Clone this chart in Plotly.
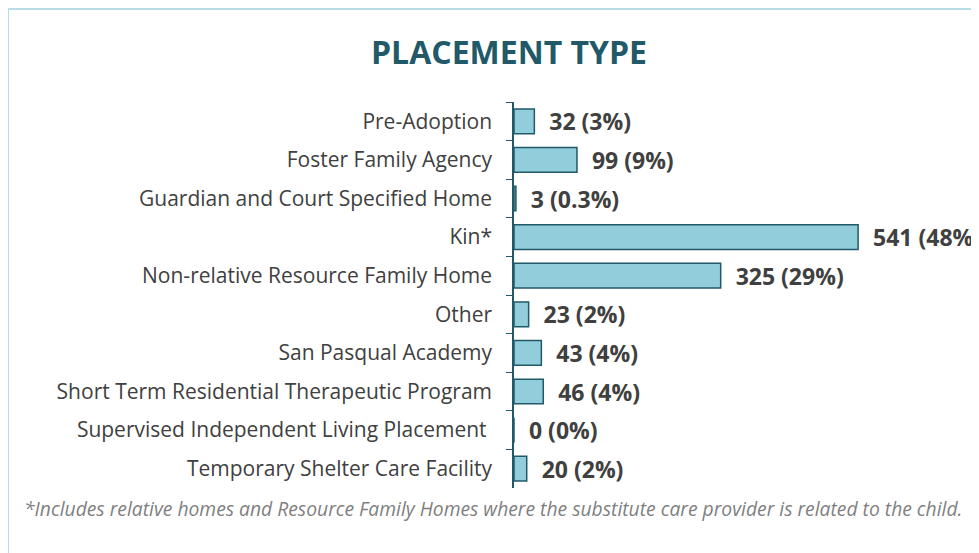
import plotly.graph_objects as go

categories = ['Pre-Adoption', 'Foster Family Agency', 'Guardian and Court Specified Home', 'Kin*',
              'Non-relative Resource Family Home', 'Other', 'San Pasqual Academy',
              'Short Term Residential Therapeutic Program', 'Supervised Independent Living Placement ',
              'Temporary Shelter Care Facility']
counts = [32, 99, 3, 541, 325, 23, 43, 46, 0, 20]
pct_labels = ['3%', '9%', '0.3%', '48%', '29%', '2%', '4%', '4%', '0%', '2%']

# page body adds an 8px margin, so figure coordinates are page coordinates minus 8
OFF = 8
W, H = 979, 553
L, R, T, B = 514 - OFF, 0, 102 - OFF, H - (488 - OFF)
pw = W - L - R
ph = H - T - B

def px_x(x):
    return (x - OFF - L) / pw

def px_y(y):
    return (H - B - (y - OFF)) / ph

labels = ['\u00a0\u00a0%d (%s)' % (c, p) for c, p in zip(counts, pct_labels)]

fig = go.Figure(go.Bar(
    x=counts, y=categories, orientation='h',
    marker=dict(color='#92CDDC', line=dict(color='#215968', width=1.5)),
    text=labels, textposition='outside', cliponaxis=False, constraintext='none',
    textfont=dict(family='Open Sans', size=23, color='#404040', weight='bold'),
))

fig.update_yaxes(autorange='reversed', showline=True, linecolor='#215968', linewidth=1.5,
                 ticks='outside', tickson='boundaries', ticklen=6, tickcolor='#215968',
                 tickfont=dict(family='Open Sans', size=21, color='#404040'),
                 ticklabelstandoff=16, showgrid=False)
fig.update_xaxes(range=[0, pw / 0.636], visible=False, showgrid=False)

fig.update_layout(
    width=W, height=H, bargap=0.36,
    margin=dict(l=L, r=R, t=T, b=B),
    plot_bgcolor='white', paper_bgcolor='white', showlegend=False,
    title=dict(text='<b>PLACEMENT TYPE</b>', x=(509 - OFF) / W, xanchor='center',
               y=1 - (53 - OFF) / H, yanchor='middle', yref='container',
               font=dict(family='Open Sans', size=32, color='#215968')),
)

# light blue frame around the card
fig.add_shape(type='line', xref='paper', yref='paper', x0=px_x(8), x1=px_x(8), y0=px_y(9), y1=px_y(580),
              line=dict(color='#B7DEE8', width=2))
fig.add_shape(type='line', xref='paper', yref='paper', x0=px_x(8), x1=px_x(1000), y0=px_y(9), y1=px_y(9),
              line=dict(color='#B7DEE8', width=2))

fig.add_annotation(text='<i>*Includes relative homes and Resource Family Homes where the substitute care provider is related to the child.</i>',
                   xref='paper', yref='paper', x=px_x(22), y=px_y(508), xanchor='left', yanchor='middle',
                   showarrow=False, font=dict(family='Open Sans', size=19.3, color='#7F7F7F'))

fig.write_html('out.html')
